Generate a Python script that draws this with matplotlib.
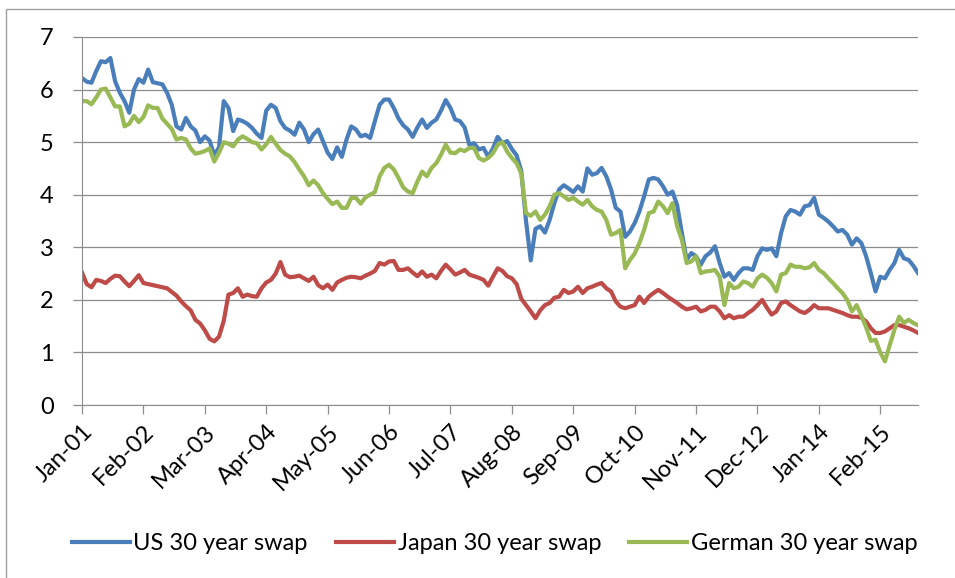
import matplotlib.pyplot as plt
import matplotlib.patches as patches
import pandas as pd

# месячные данные, янв 2001 - окт 2015
months = pd.date_range('2001-01-01', periods=178, freq='MS')

us = [6.22, 6.15, 6.13, 6.35, 6.54, 6.52, 6.6, 6.16, 5.94, 5.78,
      5.56, 6.0, 6.2, 6.13, 6.38, 6.14, 6.12, 6.1, 5.94, 5.71,
      5.3, 5.24, 5.46, 5.3, 5.22, 5.0, 5.11, 5.03, 4.75, 4.9,
      5.78, 5.65, 5.21, 5.43, 5.40, 5.35, 5.27, 5.16, 5.08, 5.6,
      5.71, 5.65, 5.4, 5.27, 5.22, 5.14, 5.37, 5.24, 5.0, 5.15,
      5.24, 5.02, 4.8, 4.68, 4.9, 4.72, 5.05, 5.3, 5.24, 5.11,
      5.14, 5.08, 5.4, 5.71, 5.81, 5.81, 5.65, 5.45, 5.32, 5.24,
      5.1, 5.28, 5.43, 5.27, 5.37, 5.43, 5.6, 5.8, 5.65, 5.43,
      5.40, 5.28, 4.95, 4.98, 4.86, 4.89, 4.72, 4.88, 5.1, 4.98,
      5.02, 4.87, 4.75, 4.45, 3.5, 2.75, 3.35, 3.40, 3.28, 3.52,
      3.84, 4.1, 4.18, 4.12, 4.05, 4.16, 4.06, 4.5, 4.38, 4.41,
      4.51, 4.35, 4.10, 3.75, 3.68, 3.2, 3.3, 3.46, 3.68, 3.97,
      4.29, 4.32, 4.29, 4.16, 4.0, 4.06, 3.8, 3.27, 2.76, 2.89,
      2.83, 2.67, 2.83, 2.9, 3.02, 2.70, 2.44, 2.51, 2.38, 2.51,
      2.60, 2.60, 2.57, 2.83, 2.98, 2.95, 2.98, 2.83, 3.27, 3.59,
      3.71, 3.68, 3.62, 3.78, 3.80, 3.94, 3.62, 3.56, 3.49, 3.40,
      3.30, 3.33, 3.24, 3.05, 3.17, 3.08, 2.83, 2.51, 2.16, 2.44,
      2.41, 2.57, 2.70, 2.95, 2.79, 2.76, 2.65, 2.51]

japan = [2.52, 2.3, 2.24, 2.38, 2.36, 2.32, 2.4, 2.46, 2.45, 2.35,
         2.26, 2.36, 2.47, 2.32, 2.30, 2.28, 2.26, 2.24, 2.22, 2.15,
         2.08, 1.97, 1.88, 1.8, 1.62, 1.55, 1.42, 1.26, 1.21, 1.3,
         1.6, 2.1, 2.13, 2.22, 2.06, 2.10, 2.07, 2.06, 2.22, 2.33,
         2.38, 2.5, 2.72, 2.48, 2.43, 2.44, 2.46, 2.41, 2.36, 2.44,
         2.28, 2.22, 2.29, 2.19, 2.33, 2.38, 2.42, 2.44, 2.43, 2.41,
         2.46, 2.5, 2.55, 2.70, 2.67, 2.73, 2.74, 2.57, 2.57, 2.60,
         2.52, 2.45, 2.54, 2.44, 2.48, 2.41, 2.55, 2.67, 2.58, 2.48,
         2.52, 2.57, 2.48, 2.45, 2.42, 2.38, 2.27, 2.44, 2.6, 2.55,
         2.45, 2.41, 2.3, 2.02, 1.9, 1.78, 1.65, 1.8, 1.9, 1.94,
         2.04, 2.06, 2.19, 2.13, 2.16, 2.25, 2.13, 2.22, 2.25, 2.29,
         2.32, 2.22, 2.16, 1.97, 1.87, 1.84, 1.87, 1.9, 2.06, 1.94,
         2.06, 2.13, 2.19, 2.13, 2.06, 2.0, 1.94, 1.87, 1.82, 1.84,
         1.87, 1.78, 1.81, 1.87, 1.87, 1.78, 1.65, 1.71, 1.65, 1.68,
         1.68, 1.75, 1.81, 1.90, 2.0, 1.85, 1.72, 1.78, 1.94, 1.97,
         1.90, 1.84, 1.78, 1.75, 1.81, 1.90, 1.84, 1.84, 1.84, 1.81,
         1.78, 1.75, 1.71, 1.68, 1.68, 1.66, 1.59, 1.46, 1.37, 1.37,
         1.40, 1.46, 1.52, 1.52, 1.49, 1.46, 1.42, 1.37]

german = [5.78, 5.78, 5.72, 5.85, 6.0, 6.02, 5.85, 5.68, 5.68, 5.30,
          5.35, 5.5, 5.38, 5.48, 5.70, 5.65, 5.65, 5.45, 5.35, 5.25,
          5.05, 5.08, 5.05, 4.88, 4.78, 4.8, 4.83, 4.88, 4.63, 4.8,
          5.0, 4.97, 4.92, 5.05, 5.11, 5.06, 5.0, 4.98, 4.86, 4.96,
          5.1, 4.97, 4.85, 4.78, 4.73, 4.62, 4.48, 4.35, 4.18, 4.27,
          4.18, 4.03, 3.92, 3.82, 3.87, 3.75, 3.75, 3.94, 3.94, 3.83,
          3.95, 4.0, 4.05, 4.35, 4.51, 4.57, 4.48, 4.32, 4.14, 4.06,
          4.03, 4.25, 4.44, 4.35, 4.51, 4.60, 4.76, 4.95, 4.8, 4.79,
          4.86, 4.83, 4.89, 4.89, 4.70, 4.65, 4.70, 4.79, 4.95, 5.0,
          4.82, 4.7, 4.6, 4.4, 3.65, 3.6, 3.68, 3.52, 3.62, 3.78,
          4.0, 4.03, 3.97, 3.90, 3.94, 3.87, 3.81, 3.90, 3.78, 3.71,
          3.68, 3.52, 3.24, 3.27, 3.33, 2.60, 2.76, 2.88, 3.08, 3.33,
          3.65, 3.68, 3.87, 3.78, 3.65, 3.84, 3.40, 3.14, 2.70, 2.73,
          2.83, 2.51, 2.54, 2.55, 2.57, 2.44, 1.90, 2.32, 2.22, 2.25,
          2.35, 2.32, 2.25, 2.41, 2.48, 2.42, 2.32, 2.16, 2.48, 2.51,
          2.67, 2.63, 2.63, 2.60, 2.62, 2.70, 2.57, 2.51, 2.41, 2.32,
          2.22, 2.13, 2.0, 1.78, 1.90, 1.70, 1.48, 1.22, 1.24, 1.0,
          0.83, 1.14, 1.43, 1.68, 1.56, 1.62, 1.56, 1.52]

labels = ['US 30 year swap', 'Japan 30 year swap', 'German 30 year swap']
colors = ['#4A7EBB', '#BE4B48', '#98B954']

plt.rcParams['font.family'] = ['Lato', 'DejaVu Sans']

fig = plt.figure(figsize=(9.55, 5.78), dpi=100)
ax = fig.add_axes([0.0859, 0.2993, 0.8754, 0.6367])

x = list(range(len(months)))
for s, lab, c in zip([us, japan, german], labels, colors):
    ax.plot(x, s, color=c, lw=3, label=lab, solid_joinstyle='round')

ax.set_xlim(0, len(months) - 1)
ax.set_ylim(0, 7)
ax.set_yticks(range(8))
ax.grid(axis='y', color='#8c8c8c', lw=0.9)
ax.set_axisbelow(True)

ticks = list(range(0, len(months), 13))
ax.set_xticks(ticks)
ax.set_xticklabels([months[i].strftime('%b-%y') for i in ticks],
                   rotation=45, ha='right', rotation_mode='anchor')

for sp in ['top', 'right']:
    ax.spines[sp].set_visible(False)
for sp in ['left', 'bottom']:
    ax.spines[sp].set_color('#8c8c8c')
ax.tick_params(axis='both', colors='#8c8c8c', labelcolor='black',
               labelsize=17, length=6.5, width=0.9)
ax.tick_params(axis='y', pad=14)
ax.tick_params(axis='x', pad=5)

ax.legend(loc='center', bbox_to_anchor=(0.518, 1 - 544 / 578), bbox_transform=fig.transFigure,
          ncol=3, frameon=False, fontsize=17, handlelength=2.45, handletextpad=0.15,
          columnspacing=1.2)

# рамка диаграммы
fig.patches.append(patches.Rectangle((6 / 955, -0.1), 1.2, (578 - 9) / 578 + 0.1,
                                     transform=fig.transFigure, fill=False,
                                     edgecolor='#a0a0a0', lw=1))

fig.savefig('out.png', dpi=100)
